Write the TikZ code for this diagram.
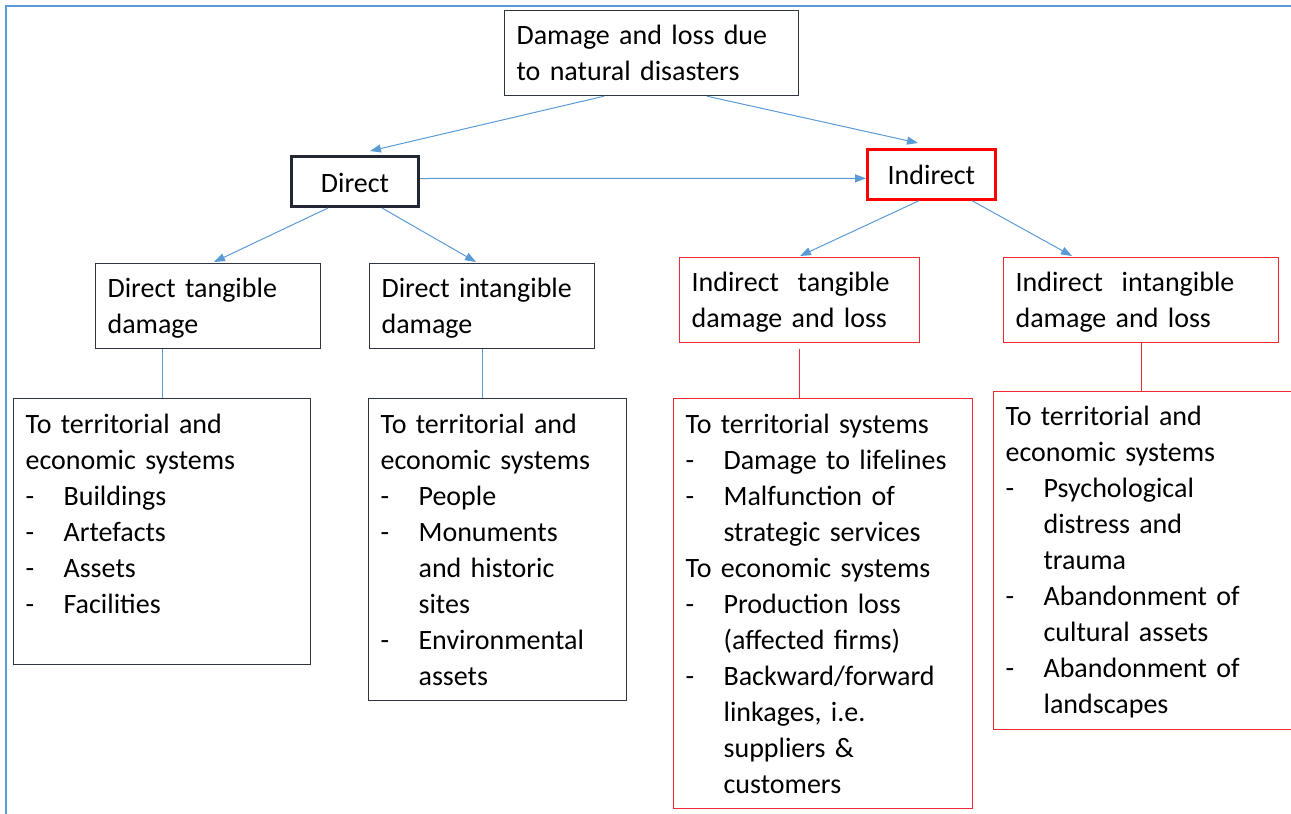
\documentclass[tikz,border=0pt]{standalone}
\usepackage{fontspec}
\setmainfont{Carlito}
\usetikzlibrary{arrows.meta}
\setlength{\parindent}{0pt}
\definecolor{linkblue}{HTML}{5B9BD5}
\definecolor{boxgray}{HTML}{2E3440}
\definecolor{boxdark}{HTML}{222733}
\definecolor{boxred}{HTML}{EE2B33}
\newcommand{\bul}[1]{\par\hangindent=38pt\hangafter=1\noindent\makebox[38pt][l]{-}#1\par}
\tikzset{
  box/.style={draw=boxgray, line width=1.2pt, anchor=north west, align=left,
    inner xsep=12pt, inner ysep=0pt, font=\fontsize{28}{36}\selectfont},
  redbox/.style={box, draw=boxred},
  link/.style={draw=linkblue, line width=1pt, -{Triangle[length=11pt,width=8pt]}},
  joint/.style={draw=linkblue, line width=1pt},
  redjoint/.style={draw=boxred, line width=1pt},
}
\begin{document}
\begin{tikzpicture}[x=1pt,y=-1pt]
    \useasboundingbox (0,0) rectangle (1291,814);
    \draw[linkblue, line width=2pt] (6,814) -- (6,6) -- (1291,6);

    \node[box, text width=270pt, text height=34pt, text depth=51pt] (top) at (504,10)
        {Damage and loss due\\ to natural disasters};

    \node[box, draw=boxdark, line width=3pt, align=center, text width=103pt, text height=36pt, text depth=14pt] (dir) at (290,155) {Direct};
    \node[redbox, draw=red, line width=2.7pt, align=center, text width=104pt, text height=35pt, text depth=15pt] (ind) at (866,148) {Indirect};

    \node[box, text width=201pt, text height=34pt, text depth=51pt] (dt) at (95,263) {Direct tangible\\ damage};
    \node[box, text width=201pt, text height=34pt, text depth=51pt] (di) at (369,263) {Direct intangible\\ damage};
    \node[redbox, text width=216pt, text height=34pt, text depth=51pt] (it) at (679,257) {Indirect~~tangible\\ damage and loss};
    \node[redbox, text width=251pt, text height=34pt, text depth=51pt] (ii) at (1003,257) {Indirect~~intangible\\ damage and loss};

    \node[box, text width=273pt, text height=35pt, text depth=231pt] (l1) at (13,398)
        {To territorial and\\ economic systems
         \bul{Buildings}\bul{Artefacts}\bul{Assets}\bul{Facilities}};
    \node[box, text width=234pt, text height=35pt, text depth=267pt] (l2) at (368,398)
        {To territorial and\\ economic systems
         \bul{People}
         \bul{Monuments\newline and historic\newline sites}
         \bul{Environmental\newline assets}};
    \node[redbox, text width=275pt, text height=35pt, text depth=375pt] (r1) at (673,398)
        {To territorial systems
         \bul{Damage to lifelines}
         \bul{Malfunction of\newline strategic services}
         To economic systems
         \bul{Production loss\newline (affected firms)}
         \bul{Backward/forward\newline linkages, i.e.\newline suppliers \&\newline customers}};
    \node[redbox, text width=278pt, text height=34pt, text depth=304pt] (r2) at (993,391)
        {To territorial and\\ economic systems
         \bul{Psychological\newline distress and\newline trauma}
         \bul{Abandonment of\newline cultural assets}
         \bul{Abandonment of\newline landscapes}};

    % arrows between levels
    \draw[link] ([xshift=100pt]top.south west) -- ([xshift=80pt,yshift=4pt]dir.north west);
    \draw[link] ([xshift=203pt]top.south west) -- ([xshift=52pt,yshift=5pt]ind.north west);
    \draw[link] ([yshift=3pt]dir.east) -- ([yshift=-4pt]ind.west);
    \draw[link] ([xshift=38pt]dir.south west) -- ([xshift=119pt,yshift=1pt]dt.north west);
    \draw[link] ([xshift=92pt]dir.south west) -- ([xshift=107pt,yshift=1pt]di.north west);
    \draw[link] ([xshift=53pt]ind.south west) -- ([xshift=121pt,yshift=1pt]it.north west);
    \draw[link] ([xshift=106pt]ind.south west) -- ([xshift=69pt,yshift=1pt]ii.north west);

    % plain joints to the lists
    \draw[joint] ([xshift=67pt]dt.south west) -- ([xshift=149pt]l1.north west);
    \draw[joint] ([xshift=113pt]di.south west) -- ([xshift=114pt]l2.north west);
    \draw[redjoint] ([xshift=120pt,yshift=-6pt]it.south west) -- ([xshift=126pt]r1.north west);
    \draw[redjoint] ([xshift=138pt]ii.south west) -- ([xshift=148pt]r2.north west);
\end{tikzpicture}
\end{document}
